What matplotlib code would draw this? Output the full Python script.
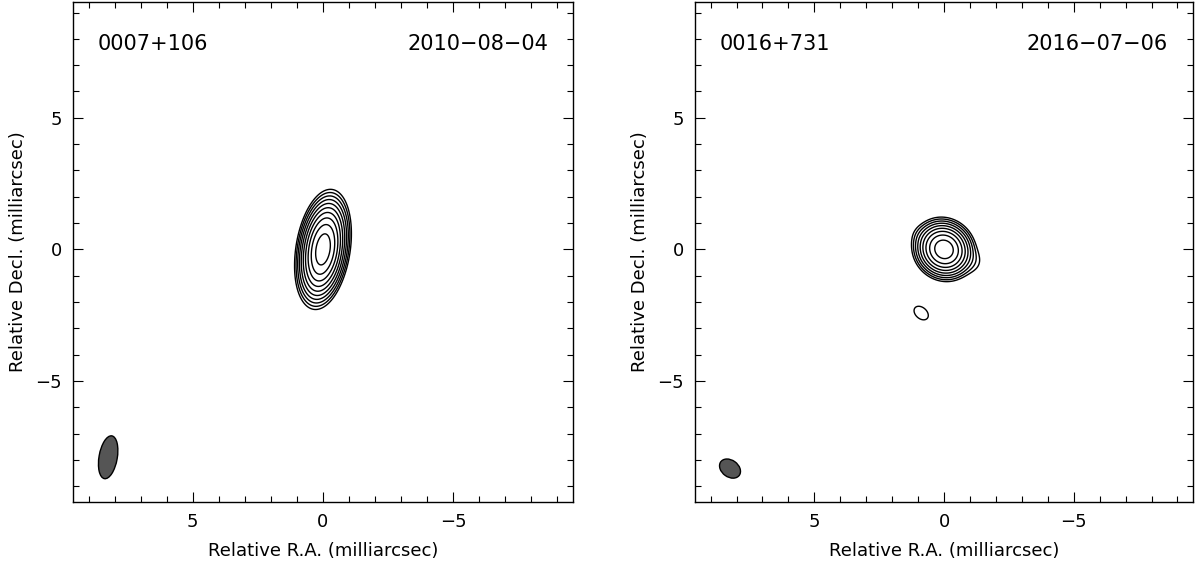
import matplotlib
matplotlib.use('Agg')
import matplotlib.pyplot as plt
from matplotlib.patches import Ellipse
from matplotlib.ticker import MultipleLocator
import numpy as np

# source names and epochs
names = ['0007+106', '0016+731']
epochs = ['2010\u221208\u221204', '2016\u221207\u221206']

# gaussian components: x (mas, RA), y (mas, Dec), peak, sigma major, sigma minor, PA (deg)
comp_x = [[0.0, 0.25], [0.0, -0.95, 0.75, 0.88]]
comp_y = [[0.0, -1.1], [0.0, -0.40, 0.45, -2.42]]
comp_peak = [[0.8, 0.002], [0.42, 0.0018, 0.0012, 0.0016]]
comp_maj = [[0.63, 0.4], [0.37, 0.35, 0.30, 0.32]]
comp_min = [[0.285, 0.3], [0.34, 0.30, 0.25, 0.22]]
comp_pa = [[-9.0, 0.0], [50.0, 60.0, 60.0, 50.0]]

# contour levels (fraction of peak scale)
levels = [0.001, 0.002, 0.004, 0.008, 0.016, 0.032, 0.064, 0.128, 0.256, 0.512]

# restoring beam: centre x, y, major, minor, PA
beam_x = [8.25, 8.25]
beam_y = [-7.9, -8.33]
beam_maj = [1.65, 0.88]
beam_min = [0.70, 0.64]
beam_pa = [-10.0, 55.0]

# axes positions in figure fraction
ax_pos = [[73/1200, 66/568, 500/1200, 500/568],
          [695/1200, 66/568, 498/1200, 500/568]]

fig = plt.figure(figsize=(12, 5.68), dpi=100)

gx = np.linspace(-9.6, 9.6, 800)
gy = np.linspace(-9.6, 9.6, 800)
X, Y = np.meshgrid(gx, gy)

for i in range(2):
    ax = fig.add_axes(ax_pos[i])
    # build the model brightness map from the components
    Z = np.zeros_like(X)
    for cx, cy, pk, smaj, smin, pa in zip(comp_x[i], comp_y[i], comp_peak[i],
                                         comp_maj[i], comp_min[i], comp_pa[i]):
        t = np.radians(pa)
        dx = X - cx
        dy = Y - cy
        u = dx*np.sin(t) + dy*np.cos(t)
        v = dx*np.cos(t) - dy*np.sin(t)
        Z += pk*np.exp(-0.5*((u/smaj)**2 + (v/smin)**2))
    ax.contour(X, Y, Z, levels=levels, colors='black', linewidths=1.0)

    # beam
    e = Ellipse((beam_x[i], beam_y[i]), width=beam_maj[i], height=beam_min[i],
                angle=90 - beam_pa[i], facecolor='#555555', edgecolor='black', lw=1.0)
    ax.add_patch(e)

    ax.set_xlim(9.6, -9.6)
    ax.set_ylim(-9.6, 9.4)
    ax.xaxis.set_major_locator(MultipleLocator(5))
    ax.xaxis.set_minor_locator(MultipleLocator(1))
    ax.yaxis.set_major_locator(MultipleLocator(5))
    ax.yaxis.set_minor_locator(MultipleLocator(1))
    ax.tick_params(which='both', direction='in', top=True, right=True, width=0.8)
    ax.tick_params(which='major', length=7, labelsize=13, pad=8)
    ax.tick_params(which='minor', length=4)
    for s in ax.spines.values():
        s.set_linewidth(1.0)

    ax.set_xlabel('Relative R.A. (milliarcsec)', fontsize=13, labelpad=8)
    ax.set_ylabel('Relative Decl. (milliarcsec)', fontsize=13, labelpad=6)

    ax.text(0.05, 0.915, names[i], transform=ax.transAxes, fontsize=15,
            ha='left', va='center')
    ax.text(0.95, 0.915, epochs[i], transform=ax.transAxes, fontsize=15,
            ha='right', va='center')

fig.savefig('out.png', dpi=100)
